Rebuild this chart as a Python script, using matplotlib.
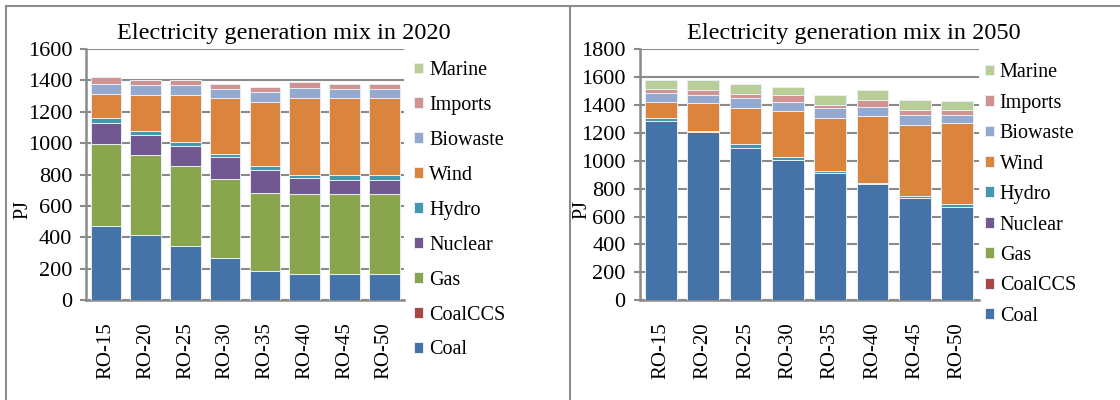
import numpy as np
import matplotlib
matplotlib.use('Agg')
import matplotlib.pyplot as plt
from matplotlib.lines import Line2D

plt.rcParams['font.family'] = ['Liberation Serif', 'DejaVu Serif']

# ============================================================
# DATA (PJ)
# ============================================================
scenarios = ['RO-15', 'RO-20', 'RO-25', 'RO-30', 'RO-35', 'RO-40', 'RO-45', 'RO-50']
sources = ['Coal', 'CoalCCS', 'Gas', 'Nuclear', 'Hydro', 'Wind', 'Biowaste', 'Imports', 'Marine']
colors = ['#4572A7', '#AA4643', '#89A54E', '#71588F', '#4198AF',
          '#DB843D', '#93A9CF', '#D19392', '#B9CD96']

# 2020 mix
coal_2020 = [474, 415, 343, 271, 189, 167, 167, 167]
coalccs_2020 = [0, 0, 0, 0, 0, 0, 0, 0]
gas_2020 = [520, 509, 509, 498, 495, 507, 507, 507]
nuclear_2020 = [135, 129, 133, 144, 147, 104, 93, 93]
hydro_2020 = [32, 27, 21, 21, 21, 21, 32, 32]
wind_2020 = [153, 225, 299, 350, 411, 485, 485, 485]
biowaste_2020 = [63, 62, 62, 61, 63, 68, 61, 61]
imports_2020 = [42, 33, 33, 32, 30, 36, 32, 32]
marine_2020 = [0, 0, 0, 0, 0, 0, 0, 0]

# 2050 mix
coal_2050 = [1280, 1202, 1092, 1006, 911, 832, 734, 665]
coalccs_2050 = [0, 0, 0, 0, 0, 0, 0, 0]
gas_2050 = [0, 0, 0, 0, 0, 0, 0, 0]
nuclear_2050 = [0, 0, 0, 0, 0, 0, 0, 0]
hydro_2050 = [27, 9, 29, 22, 12, 10, 15, 26]
wind_2050 = [114, 198, 257, 324, 384, 474, 508, 580]
biowaste_2050 = [60, 60, 67, 69, 69, 69, 71, 57]
imports_2050 = [33, 36, 33, 45, 24, 50, 36, 36]
marine_2050 = [60, 69, 72, 60, 66, 70, 71, 59]

mix_2020 = [coal_2020, coalccs_2020, gas_2020, nuclear_2020, hydro_2020,
            wind_2020, biowaste_2020, imports_2020, marine_2020]
mix_2050 = [coal_2050, coalccs_2050, gas_2050, nuclear_2050, hydro_2050,
            wind_2050, biowaste_2050, imports_2050, marine_2050]

GRID = '#8a8a8a'
FS = 14.5


def stacked_panel(ax, mix, ymax, bar_width, ylabel_x, legend_anchor, legend_spacing):
    x = np.arange(len(scenarios))
    bottom = np.zeros(len(scenarios))
    handles = []
    for vals, name, col in zip(mix, sources, colors):
        vals = np.array(vals, dtype=float)
        h = ax.bar(x, vals, bar_width, bottom=bottom, color=col, label=name,
                   edgecolor='#e8eef4', linewidth=0.7, zorder=3)
        handles.append(h)
        bottom += vals

    ax.set_xlim(-0.5, len(scenarios) - 0.5)
    ax.set_ylim(0, ymax)
    ax.set_yticks(np.arange(0, ymax + 1, 200))
    ax.set_xticks(x)
    ax.set_xticklabels(scenarios, rotation=90, fontsize=15)
    ax.tick_params(axis='y', labelsize=16, direction='out', length=4,
                   width=1.5, color=GRID, pad=6)
    ax.tick_params(axis='x', length=0, pad=15.5)
    ax.yaxis.grid(True, color=GRID, linewidth=1.5, zorder=0)
    ax.set_axisbelow(True)
    for side in ['top', 'right']:
        ax.spines[side].set_visible(False)
    for side in ['left', 'bottom']:
        ax.spines[side].set_color(GRID)
        ax.spines[side].set_linewidth(1.8)
    ax.set_ylabel('PJ', fontsize=FS)
    ax.yaxis.set_label_coords(ylabel_x, 0.36)

    ax.legend(handles[::-1], sources[::-1], loc='upper left',
              bbox_to_anchor=legend_anchor, frameon=False, fontsize=FS,
              handlelength=0.45, handleheight=0.45, handletextpad=0.3,
              labelspacing=legend_spacing, borderaxespad=0.0)


fig = plt.figure(figsize=(11.2, 4.0), dpi=100)

ax1 = fig.add_axes([0.0768, 0.249, 0.284, 0.629])
stacked_panel(ax1, mix_2020, 1600, 0.77, -0.17, (1.006, 0.983), 0.79)
fig.text(0.253, 0.915, 'Electricity generation mix in 2020', fontsize=17.5,
         ha='center', va='center')

ax2 = fig.add_axes([0.571, 0.249, 0.3027, 0.629])
stacked_panel(ax2, mix_2050, 1800, 0.75, -0.141, (0.994, 0.975), 0.57)
fig.text(0.762, 0.915, 'Electricity generation mix in 2050', fontsize=17.5,
         ha='center', va='center')

# panel frames
frame = dict(color='#8c8c8c', linewidth=1.5, transform=fig.transFigure)
fig.add_artist(Line2D([0.0054, 1.0], [0.985, 0.985], **frame))
fig.add_artist(Line2D([0.0054, 0.0054], [0.0, 0.985], **frame))
fig.add_artist(Line2D([0.509, 0.509], [0.0, 0.985], **frame))

fig.savefig('out.png', dpi=100)
